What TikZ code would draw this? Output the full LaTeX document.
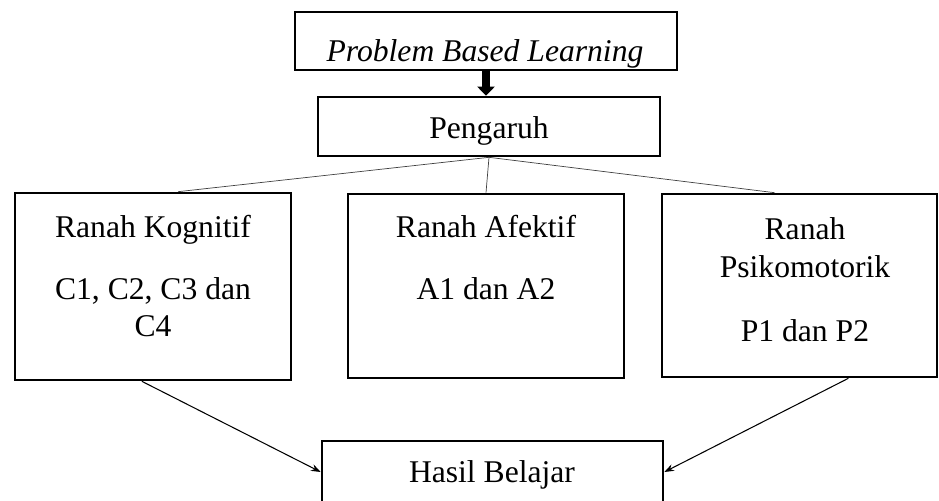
\documentclass[tikz,border=0pt]{standalone}
\usepackage{fontspec}
\setmainfont{Liberation Serif}
\usepackage{tikz}
\usetikzlibrary{calc}
\usetikzlibrary{positioning}
\usetikzlibrary {arrows.meta}

\begin{document}
\begin{tikzpicture}[x=0.02cm, y=-0.02cm,
		box/.style = {draw, line width=1.5pt, rectangle, inner sep=0pt},
		txt/.style = {anchor=base, align=center, inner sep=0pt, font=\fontsize{18pt}{21pt}\selectfont},
		thin line/.style = {draw=black!75, line width=0.4pt},
		r/.style = {-{Stealth[length=5.5pt, width=4pt]}, line width=0.6pt},
		]
		\useasboundingbox (0,0) rectangle (939,500);
		
		\node[box, minimum width=382*0.02cm, minimum height=58*0.02cm]	(plb)	at (486, 41)	{};
		\node[box, minimum width=342*0.02cm, minimum height=59*0.02cm]	(peng)	at (489, 126.5)	{};
		\node[box, minimum width=276*0.02cm, minimum height=187*0.02cm]	(kog)	at (153, 286.5)	{};
		\node[box, minimum width=276*0.02cm, minimum height=184*0.02cm]	(afe)	at (486, 286)	{};
		\node[box, minimum width=275*0.02cm, minimum height=183*0.02cm]	(psi)	at (799.5, 285.5)	{};
		\node[box, minimum width=341*0.02cm, minimum height=62*0.02cm]	(hasil)	at (492.5, 472)	{};
		
		% last line of each text sits at the given base
		\node[txt]	(plb-t)		at (485, 62)	{\itshape Problem Based Learning};
		\node[txt]	(peng-t)	at (489, 138)	{Pengaruh};
		\node[txt]	(kog-t)		at (153, 336)	{Ranah Kognitif\\[14pt]C1, C2, C3 dan\\C4};
		\node[txt]	(afe-t)		at (486, 299)	{Ranah Afektif\\[14pt]A1 dan A2};
		\node[txt]	(psi-t)		at (805, 341)	{Ranah\\[1pt]Psikomotorik\\[15pt]P1 dan P2};
		\node[txt]	(hasil-t)	at (492, 482)	{Hasil Belajar};
		
		\draw[line width=4.5pt, -{Triangle[width=0.34cm, length=0.18cm]}]	(plb.south)	to	(plb.south |- peng.north);
		\draw[thin line]	(peng.south)	to	($(kog.north west)!0.59!(kog.north east)$);
		\draw[thin line]	(peng.south)	to	(afe.north);
		\draw[thin line]	(peng.south)	to	($(psi.north west)!0.41!(psi.north east)$);
		\draw[r]	($(kog.south west)!0.46!(kog.south east)$)	to	(hasil.west);
		\draw[r]	($(psi.south west)!0.676!(psi.south east)$)	to	(hasil.east);
	\end{tikzpicture}
\end{document}
